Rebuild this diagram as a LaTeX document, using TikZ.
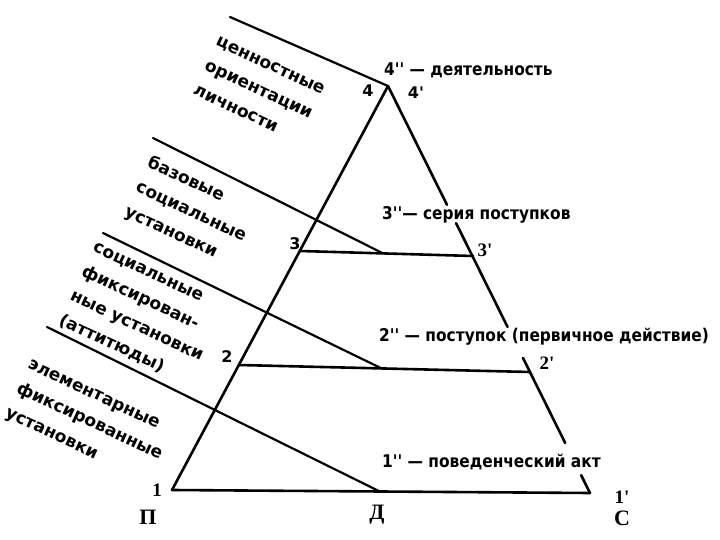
\documentclass[tikz,border=0pt]{standalone}
\usepackage{fontspec}
\setmainfont{DejaVu Sans}
\newfontfamily\lab[FakeStretch=0.88]{DejaVu Sans}
\newfontfamily\rlab{DejaVu Sans}
\newfontfamily\serb{Liberation Serif}
\usetikzlibrary{calc}
\begin{document}
\begin{tikzpicture}[x=1pt,y=-1pt,
  tri/.style={line width=2.6pt,line cap=round,line join=round},
  thin/.style={line width=2.2pt,line cap=round},
  rot/.style={rotate=-25,align=left,inner sep=0pt,anchor=north west,
    font=\rlab\bfseries\fontsize{17}{27}\selectfont},
  rl/.style={anchor=west,inner sep=1pt,font=\lab\bfseries\fontsize{17.5}{19}\selectfont},
  vs/.style={inner sep=0pt,font=\rlab\bfseries\fontsize{16}{18}\selectfont},
  vr/.style={inner sep=0pt,font=\serb\bfseries\fontsize{19}{21}\selectfont},
  big/.style={inner sep=0pt,font=\serb\bfseries\fontsize{22}{24}\selectfont}]
\useasboundingbox (0,0) rectangle (720,540);
% triangle vertices
\coordinate (A) at (388,86);
\coordinate (P) at (172,490);
\coordinate (C) at (590,493);
% level points
\coordinate (L3) at (300,251);
\coordinate (R3) at (473,256);
\coordinate (L2) at (239,365);
\coordinate (R2) at (530,372);
\coordinate (m3) at ($(L3)!0.48!(R3)$);
\coordinate (m2) at ($(L2)!0.49!(R2)$);
\coordinate (D) at ($(P)!0.497!(C)$);
% outer ends of diagonals
\coordinate (d4) at (230,17);
\coordinate (d3) at (153,138);
\coordinate (d2) at (103,233);
\coordinate (d1) at (47,327);
% triangle
\draw[tri] (P) -- (A);
\draw[tri] (P) -- (C);
\draw[tri] (A) -- ($(A)!0.292!(C)$);
\draw[tri] ($(A)!0.337!(C)$) -- ($(A)!0.592!(C)$);
\draw[tri] ($(A)!0.668!(C)$) -- ($(A)!0.877!(C)$);
\draw[tri] ($(A)!0.956!(C)$) -- (C);
% horizontal levels
\draw[tri] (L3) -- (R3);
\draw[tri] (L2) -- (R2);
% diagonals
\draw[thin] (d4) -- (A);
\draw[thin] (d3) -- (m3);
\draw[thin] (d2) -- (m2);
\draw[thin] (d1) -- (D);
% rotated labels
\node[rot] (g1) at (219,36) {ценностные\\ориентации\\личности};
\node[rot] (g2) at (152,154) {базовые\\социальные\\установки};
\node[rot] (g3) at (96,242) {социальные\\фиксирован-\\ные установки\\(аттитюды)};
\node[rot] (g4) at (31,359) {элементарные\\фиксированные\\установки};
% right labels
\node[rl] (t4) at (383,70) {4'' — деятельность};
\node[rl] (t3) at (381,215) {3''— серия поступков};
\node[rl] (t2) at (378,337) {2'' — поступок (первичное действие)};
\node[rl] (t1) at (381,462) {1'' — поведенческий акт};
% vertex labels
\node[vs] (n4) at (368,91) {4};
\node[vs] (n4p) at (416,93) {4'};
\node[vs] (n3) at (295,244) {3};
\node[vr] (n3p) at (485,250) {3'};
\node[vs] (n2) at (227,357) {2};
\node[vr] (n2p) at (547,363) {2'};
\node[vr] (n1) at (157,490) {1};
\node[vr] (n1p) at (622,497) {1'};
\node[big] (nP) at (148,517) {П};
\node[big] (nD) at (377,515) {Д};
\node[big] (nC) at (622,518) {С};
\end{tikzpicture}
\end{document}
